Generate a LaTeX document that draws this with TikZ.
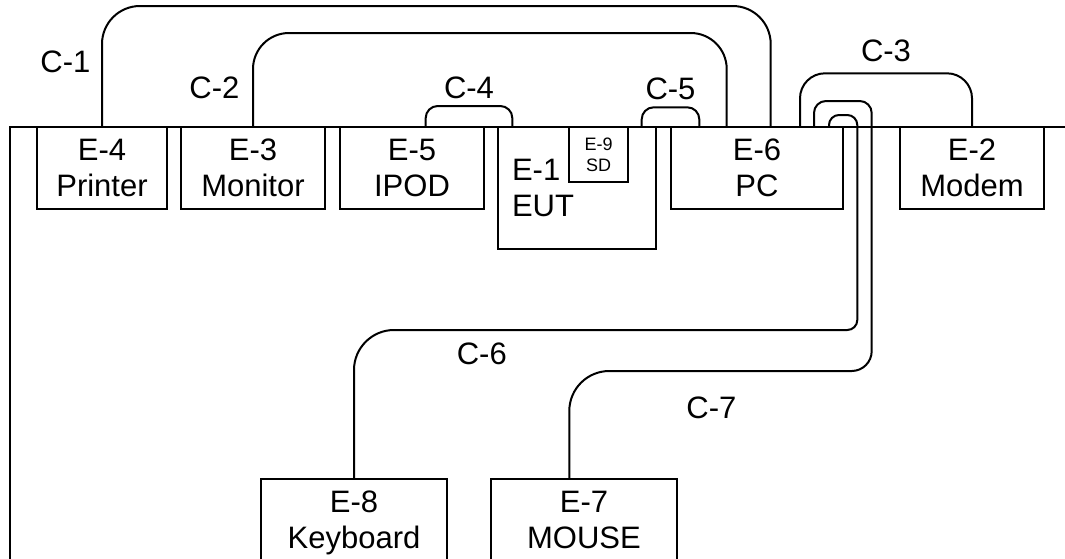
\documentclass[tikz,border=0pt]{standalone}
\usepackage{fontspec}
\setmainfont{Liberation Sans}
\usetikzlibrary{positioning}
\newcommand{\devbox}[3]{
    \node(#1)[
        draw,
        line width=1pt,
        outer sep=0pt,
        minimum height=41pt,
        anchor=north west,
        align=center,
        fill=white,
        #2
    ]{#3};
}
\tikzset{
    cable/.style={line width=1pt},
}

\begin{document}
\begin{tikzpicture}[x=0.5pt, y=-0.5pt, font=\fontsize{15.5}{18}\selectfont]
	\useasboundingbox (0,0) rectangle (1065,558);
	\clip (0,0) rectangle (1065,558);

	% table edge
	\draw[line width=1pt] (1070,127) -| (10,570);

	\devbox{e4}{minimum width=65pt, at={(37,127)}}{E-4\\Printer}
	\devbox{e3}{minimum width=72pt, right=7pt of e4.north east, anchor=north west}{E-3\\Monitor}
	\devbox{e5}{minimum width=72pt, right=7.5pt of e3.north east, anchor=north west}{E-5\\IPOD}
	\devbox{e1}{minimum height=61pt, text width=65pt, inner xsep=7pt, align=left,
		right=7pt of e5.north east, anchor=north west}{E-1\\EUT}
	\devbox{e9}{minimum width=29.5pt, minimum height=27.5pt, inner sep=0pt,
		font=\fontsize{9}{10.5}\selectfont, at={([xshift=35.5pt]e1.north west)}}{E-9\\SD}
	\devbox{e6}{minimum width=86pt, right=7.5pt of e1.north east, anchor=north west}{E-6\\PC}
	\devbox{e2}{minimum width=72pt, right=28.5pt of e6.north east, anchor=north west}{E-2\\Modem}

	\devbox{e8}{minimum width=93pt, minimum height=44pt, at={(261,479)}}{E-8\\Keyboard}
	\devbox{e7}{minimum width=93pt, minimum height=44pt, right=22pt of e8.north east, anchor=north west}{E-7\\MOUSE\vphantom{y}}

	% plug points
	\coordinate (e5 c4) at ([xshift=42.85pt]e5.north west);
	\coordinate (e1 c4) at ([xshift=7.15pt]e1.north west);
	\coordinate (e1 c5) at ([xshift=71.85pt]e1.north west);
	\coordinate (e6 c5) at ([xshift=14.15pt]e6.north west);
	\coordinate (e6 c2) at ([xshift=27.85pt]e6.north west);
	\coordinate (e6 c1) at ([xshift=49.85pt]e6.north west);
	\coordinate (e6 c3) at ([xshift=64.5pt]e6.north west);
	\coordinate (e6 c7) at ([xshift=71.5pt]e6.north west);
	\coordinate (e6 c6) at ([xshift=79pt]e6.north west);
	\coordinate (e7 c7) at ([xshift=39.15pt]e7.north west);

	\draw[cable, rounded corners=19pt] (e4.north) -- node[pos=0.54, left=2pt] (c1) {C-1} ++(0,-121) -| (e6 c1);
	\draw[cable, rounded corners=18pt] (e3.north) -- node[pos=0.42, left=3pt] (c2) {C-2} ++(0,-94) -| (e6 c2);
	\draw[cable, rounded corners=6pt] (e5 c4) -- ++(0,-21) -| node[pos=0.25, above] (c4) {C-4} (e1 c4);
	\draw[cable, rounded corners=6pt] (e1 c5) -- ++(0,-19.7) -| node[pos=0.25, above] (c5) {C-5} (e6 c5);
	\draw[cable, rounded corners=12.5pt] (e6 c3) -- ++(0,-53.7) -| node[pos=0.25, above=2pt] (c3) {C-3} (e2.north);

	\draw[cable] (e6 c6) [rounded corners=5pt] -- ++(0,-12) -- ++(28.3,0) -- ++(0,215)
		[rounded corners=20pt] -| node[pos=0.373, below=2.5pt] (c6) {C-6} (e8.north);
	\draw[cable] (e6 c7) [rounded corners=6pt] -- ++(0,-26) -- ++(57.7,0) [rounded corners=10pt] -- ++(0,270)
		[rounded corners=20pt] -| node[pos=0.265, below=9pt] (c7) {C-7} (e7 c7);
\end{tikzpicture}
\end{document}
